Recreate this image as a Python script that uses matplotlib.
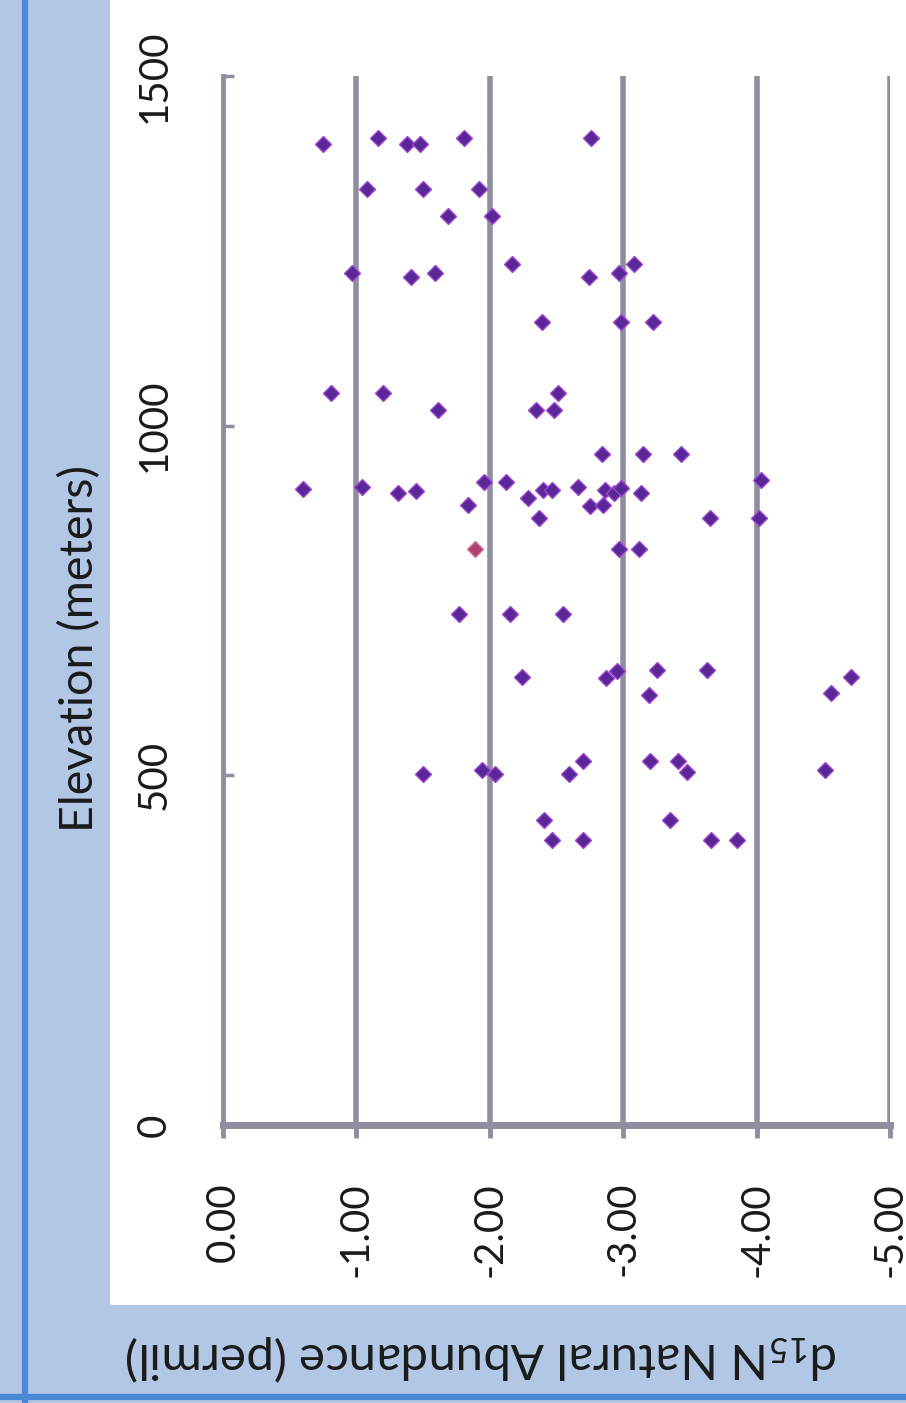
import matplotlib
matplotlib.use("Agg")
import matplotlib.pyplot as plt
from matplotlib.patches import Rectangle
from matplotlib.lines import Line2D

plt.rcParams['font.family'] = ['Lato', 'DejaVu Sans']
plt.rcParams['mathtext.fontset'] = 'custom'
plt.rcParams['mathtext.rm'] = 'Lato'
plt.rcParams['mathtext.it'] = 'Lato'

# ---- data ----
d15n = [-0.75, -1.16, -1.38, -1.48, -1.81, -2.76, -1.08, -1.50, -1.92, -1.69,
        -2.02, -0.97, -1.41, -1.59, -2.17, -2.74, -2.97, -3.08, -2.39, -2.98,
        -3.22, -0.81, -1.20, -1.61, -2.35, -2.48, -2.51, -2.84, -3.15, -3.43,
        -0.60, -1.04, -1.31, -1.45, -1.84, -1.96, -2.12, -2.29, -2.40, -2.47,
        -2.37, -2.66, -2.75, -2.85, -2.86, -2.93, -2.98, -3.13, -2.97, -3.12,
        -1.77, -2.15, -2.55, -2.24, -2.87, -2.95, -3.25, -3.19, -1.50, -1.94,
        -2.04, -2.59, -2.70, -3.20, -3.41, -3.48, -2.41, -3.35, -2.47, -2.70,
        -3.63, -4.71, -4.56, -4.51, -3.85, -3.66, -3.65, -4.03, -4.02]
elevation = [1403, 1411, 1403, 1403, 1411, 1411, 1339, 1339, 1339, 1300,
             1300, 1218, 1212, 1218, 1231, 1212, 1218, 1231, 1148, 1148,
             1148, 1046, 1046, 1022, 1022, 1022, 1046, 959, 959, 959,
             909, 913, 904, 907, 887, 920, 920, 897, 908, 908,
             868, 913, 885, 887, 908, 904, 911, 904, 823, 823,
             730, 730, 730, 641, 639, 649, 651, 615, 502, 507,
             502, 502, 520, 520, 520, 505, 436, 436, 408, 408,
             651, 641, 618, 507, 408, 408, 868, 923, 868]
# one point drawn in a reddish tone
d15n_red = [-1.89]
elevation_red = [823]

x_ticks = [0, -1, -2, -3, -4, -5]
x_ticklabels = ['0.00', '-1.00', '-2.00', '-3.00', '-4.00', '-5.00']
y_ticks = [0, 500, 1000, 1500]
y_ticklabels = ['0', '500', '1000', '1500']

W, H = 906, 1403
fig = plt.figure(figsize=(W / 100, H / 100), dpi=100)
fig.patch.set_facecolor('#b2c7e6')

# white chart area
fig.add_artist(Rectangle((110 / W, 1 - 1305 / H), (W - 110) / W, 1305 / H,
                         transform=fig.transFigure, facecolor='white',
                         edgecolor='none', zorder=0))
# blue frame lines
fig.add_artist(Line2D([25 / W, 25 / W], [0, 1], transform=fig.transFigure,
                      color='#4a88d6', lw=4.5, zorder=1))
fig.add_artist(Line2D([0, 1], [1 - 1397 / H, 1 - 1397 / H], transform=fig.transFigure,
                      color='#4a88d6', lw=4.5, zorder=1))

left, right, top, bottom = 223, 890, 76, 1125
ax = fig.add_axes([left / W, 1 - bottom / H, (right - left) / W, (bottom - top) / H])
ax.set_facecolor('none')
ax.set_xlim(0, -5)
ax.set_ylim(0, 1500)

grid_col = '#8e8e9f'
for s in ['top', 'right']:
    ax.spines[s].set_visible(False)
ax.spines['left'].set_color(grid_col)
ax.spines['left'].set_linewidth(3.5)
ax.spines['bottom'].set_color(grid_col)
ax.spines['bottom'].set_linewidth(5)

ax.set_xticks(x_ticks)
ax.set_xticklabels(x_ticklabels, rotation=90)
ax.set_yticks(y_ticks)
ax.set_yticklabels(y_ticklabels, rotation=90, va='center')
ax.tick_params(axis='x', direction='out', length=9, width=3.5, color=grid_col,
               labelsize=29, pad=32, labelcolor='#1a1a1a')
ax.tick_params(axis='y', direction='in', length=8, width=2.5, color=grid_col,
               labelsize=29, pad=36, labelcolor='#1a1a1a')
ax.grid(axis='x', color=grid_col, lw=4.0, zorder=1)
ax.set_axisbelow(True)

ax.plot(d15n, elevation, linestyle='none', marker='D', markersize=8.5,
        markerfacecolor='#582896', markeredgecolor='#a044d0',
        markeredgewidth=1.0, zorder=3, clip_on=False)
ax.plot(d15n_red, elevation_red, linestyle='none', marker='D', markersize=8.5,
        markerfacecolor='#b0406e', markeredgecolor='#d070a0',
        markeredgewidth=1.0, zorder=3, clip_on=False)

fig.text(80 / W, 1 - 648 / H, 'Elevation (meters)', rotation=90,
         ha='center', va='center', fontsize=33.5, color='#1a1a1a')
fig.text(482 / W, 1 - 1358 / H, r'd$_{\mathrm{15}}$N Natural Abundance (permil)',
         rotation=180, ha='center', va='center', fontsize=35.5, color='#1a1a1a')

fig.savefig('out.png', dpi=100, facecolor=fig.get_facecolor())
